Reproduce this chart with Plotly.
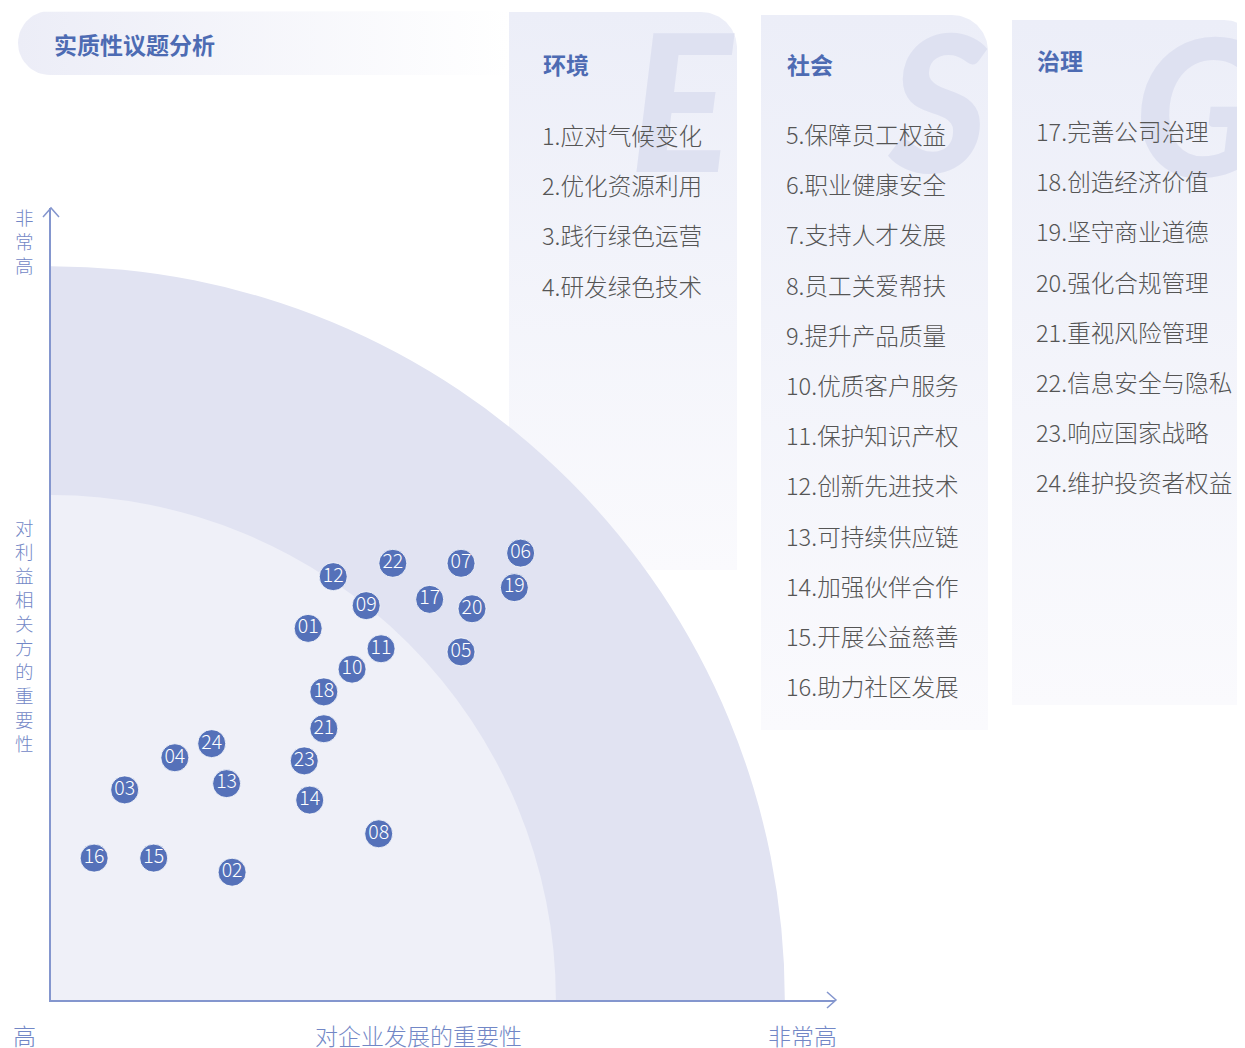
import plotly.graph_objects as go
import math

# ---------------- data ----------------
labels = ['01', '02', '03', '04', '05', '06', '07', '08', '09', '10', '11', '12',
          '13', '14', '15', '16', '17', '18', '19', '20', '21', '22', '23', '24']
company_importance = [3.28, 2.31, 0.94, 1.58, 5.23, 5.99, 5.23, 4.18, 4.02, 3.84, 4.21, 3.60,
                      2.24, 3.30, 1.31, 0.55, 4.83, 3.48, 5.91, 5.37, 3.48, 4.36, 3.23, 2.05]
stakeholder_importance = [4.74, 1.63, 2.68, 3.09, 4.44, 5.70, 5.57, 2.12, 5.03, 4.22, 4.48, 5.40,
                          2.76, 2.55, 1.81, 1.81, 5.11, 3.93, 5.26, 4.99, 3.46, 5.57, 3.05, 3.27]

title_text = '实质性议题分析'
panel_titles = ['环境', '社会', '治理']
panel_letters = ['E', 'S', 'G']
E_items = ['1.应对气候变化', '2.优化资源利用', '3.践行绿色运营', '4.研发绿色技术']
S_items = ['5.保障员工权益', '6.职业健康安全', '7.支持人才发展', '8.员工关爱帮扶',
           '9.提升产品质量', '10.优质客户服务', '11.保护知识产权', '12.创新先进技术',
           '13.可持续供应链', '14.加强伙伴合作', '15.开展公益慈善', '16.助力社区发展']
G_items = ['17.完善公司治理', '18.创造经济价值', '19.坚守商业道德', '20.强化合规管理',
           '21.重视风险管理', '22.信息安全与隐私', '23.响应国家战略', '24.维护投资者权益']

x_axis_title = '对企业发展的重要性'
y_axis_title = '对利益相关方的重要性'
low_label = '高'
high_label = '非常高'

# zones (radius in axis units)
outer_radius = 9.36
inner_radius = 6.44

# ---------------- style ----------------
OFF = 8                      # page body margin of the html page
VW, VH = 1245, 1048          # viewport
W, H = VW - OFF, VH - OFF    # figure size
FONT = 'Noto Sans CJK SC'
BLUE = '#4D6BB3'
MARK = '#5571B9'
AXIS = '#8496CE'
AXIS_TXT = '#7287C6'
ITEM = '#555555'

# plot area in viewport pixels
PL, PR, PT, PB = 51, 835, 208, 1000
unit = (PR - PL) / 10.0
y_top = (PB - PT) / unit

fig = go.Figure()


def rounded_panel(x0, x1, y0, y1, r):
    xs, ys = [x0, x0, x1 - r], [y1, y0, y0]
    for i in range(0, 31):
        t = math.radians(90 - 3 * i)
        xs.append(x1 - r + r * math.cos(t))
        ys.append(y0 + r - r * math.sin(t))
    xs += [x1, x0]
    ys += [y1, y1]
    return xs, ys


# title pill (horizontal gradient)
px, py = [510, 50], [11, 11]
for i in range(0, 31):
    t = math.radians(90 + 6 * i)
    px.append(50 + 32 * math.cos(t))
    py.append(43 - 32 * math.sin(t))
px += [510, 510]
py += [75, 11]
fig.add_trace(go.Scatter(
    x=px, y=py, fill='toself', mode='lines', line=dict(width=0),
    fillgradient=dict(type='horizontal', start=18, stop=510,
                      colorscale=[[0, '#ECEDF7'], [1, '#FFFFFF']]),
    hoverinfo='skip', showlegend=False, xaxis='x', yaxis='y'))

# ESG panels (vertical gradient)
panels = [(509, 737, 12, 570), (761, 988, 15, 730), (1012, 1260, 20, 705)]
for (x0, x1, y0, y1) in panels:
    xs, ys = rounded_panel(x0, x1, y0, y1, 36)
    fig.add_trace(go.Scatter(
        x=xs, y=ys, fill='toself', mode='lines', line=dict(width=0),
        fillgradient=dict(type='vertical', start=y0, stop=y1,
                          colorscale=[[0, '#ECEEF8'], [1, '#FAFAFD']]),
        hoverinfo='skip', showlegend=False, xaxis='x', yaxis='y'))

# scatter points on the main axes
fig.add_trace(go.Scatter(
    x=company_importance, y=stakeholder_importance, text=labels,
    mode='markers+text', textposition='middle center',
    marker=dict(size=28, color=MARK, line=dict(width=1, color='rgba(255,255,255,0.8)')),
    textfont=dict(family=FONT, size=19.5, color='white', weight=300),
    hoverinfo='text', showlegend=False, xaxis='x2', yaxis='y2', cliponaxis=False))

shapes = []
# quarter circle zones
shapes.append(dict(type='circle', xref='x2', yref='y2', x0=-outer_radius, x1=outer_radius,
                   y0=-outer_radius, y1=outer_radius, fillcolor='#E1E3F2',
                   line=dict(width=0), layer='below'))
shapes.append(dict(type='circle', xref='x2', yref='y2', x0=-inner_radius, x1=inner_radius,
                   y0=-inner_radius, y1=inner_radius, fillcolor='#EFF0F8',
                   line=dict(width=0), layer='below'))
# arrow heads (viewport pixel coordinates)
shapes.append(dict(type='path', xref='x', yref='y',
                   path=f'M {PL-8},{PT+9} L {PL},{PT} L {PL+8},{PT+9}',
                   line=dict(color=AXIS, width=1.5)))
shapes.append(dict(type='path', xref='x', yref='y',
                   path=f'M {PR-8},{PB-8} L {PR+1},{PB} L {PR-8},{PB+8}',
                   line=dict(color=AXIS, width=1.5)))

annotations = []
# watermark letters
letter_pos = [(682, 98), (938, 98), (1198, 102)]
for L, (lx, ly) in zip(panel_letters, letter_pos):
    annotations.append(dict(x=lx, y=ly, xref='x', yref='y', text=L, showarrow=False,
                            font=dict(family='Lato', size=190, color='#DEE1F1', weight=900,
                                      style='italic'),
                            xanchor='center', yanchor='middle'))
# title
annotations.append(dict(x=52, y=44, xref='x', yref='y', text=title_text, showarrow=False,
                        font=dict(family=FONT, size=23, color=BLUE, weight=700),
                        xanchor='left', yanchor='middle'))
# panel headers and items
head_pos = [(541, 64), (785, 64), (1035, 60)]
item_lists = [E_items, S_items, G_items]
item_start = [135, 134, 131]
for (hx, hy), ttl, items, y0 in zip(head_pos, panel_titles, item_lists, item_start):
    annotations.append(dict(x=hx, y=hy, xref='x', yref='y', text=ttl, showarrow=False,
                            font=dict(family=FONT, size=23, color=BLUE, weight=700),
                            xanchor='left', yanchor='middle'))
    for i, it in enumerate(items):
        annotations.append(dict(x=hx - 1, y=y0 + i * 50.2, xref='x', yref='y', text=it,
                                showarrow=False,
                                font=dict(family=FONT, size=23.6, color=ITEM, weight=300),
                                xanchor='left', yanchor='middle'))
# axis labels
annotations.append(dict(x=24, y=241, xref='x', yref='y', text='<br>'.join(high_label),
                        showarrow=False, font=dict(family=FONT, size=18.5, color=AXIS_TXT, weight=300),
                        xanchor='center', yanchor='middle'))
annotations.append(dict(x=24, y=635, xref='x', yref='y', text='<br>'.join(y_axis_title),
                        showarrow=False, font=dict(family=FONT, size=18.5, color=AXIS_TXT, weight=300),
                        xanchor='center', yanchor='middle'))
annotations.append(dict(x=24, y=1035, xref='x', yref='y', text=low_label, showarrow=False,
                        font=dict(family=FONT, size=23, color=AXIS_TXT, weight=300),
                        xanchor='center', yanchor='middle'))
annotations.append(dict(x=418, y=1035, xref='x', yref='y', text=x_axis_title, showarrow=False,
                        font=dict(family=FONT, size=23, color=AXIS_TXT, weight=300),
                        xanchor='center', yanchor='middle'))
annotations.append(dict(x=802, y=1035, xref='x', yref='y', text=high_label, showarrow=False,
                        font=dict(family=FONT, size=23, color=AXIS_TXT, weight=300),
                        xanchor='center', yanchor='middle'))

fig.update_layout(
    width=W, height=H, margin=dict(l=0, r=0, t=0, b=0),
    paper_bgcolor='white', plot_bgcolor='rgba(0,0,0,0)',
    xaxis=dict(domain=[0, 1], range=[OFF, VW], visible=False, fixedrange=True, anchor='y'),
    yaxis=dict(domain=[0, 1], range=[VH, OFF], visible=False, fixedrange=True, anchor='x'),
    xaxis2=dict(domain=[(PL - OFF) / W, (PR - OFF) / W], range=[0, 10], anchor='y2',
                showgrid=False, zeroline=False, showticklabels=False, ticks='',
                showline=True, linecolor=AXIS, linewidth=1.5, fixedrange=True),
    yaxis2=dict(domain=[(VH - PB) / H, (VH - PT) / H], range=[0, y_top], anchor='x2',
                showgrid=False, zeroline=False, showticklabels=False, ticks='',
                showline=True, linecolor=AXIS, linewidth=1.5, fixedrange=True),
    shapes=shapes, annotations=annotations, showlegend=False,
    font=dict(family=FONT),
)

fig.write_html('out.html')
